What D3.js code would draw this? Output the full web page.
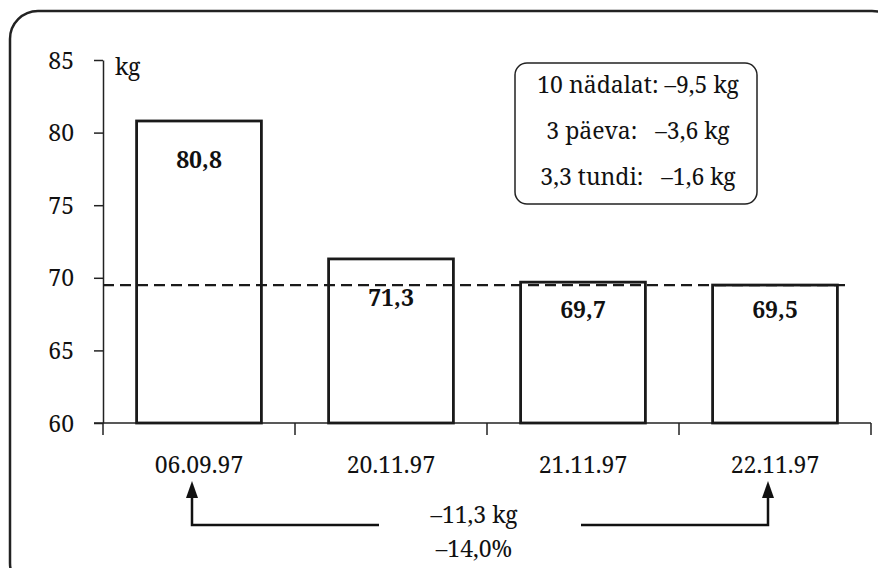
<!DOCTYPE html>
<html>
<head>
<meta charset="utf-8">
<title>kaal</title>
</head>
<body style="margin:0;background:#fff">
<script src="https://cdn.jsdelivr.net/npm/d3@7"></script>
<script>
// andmed
var dates = ["06.09.97", "20.11.97", "21.11.97", "22.11.97"];
var weights = [80.8, 71.3, 69.7, 69.5];
var yTicks = [60, 65, 70, 75, 80, 85];
var refLevel = 69.5;
var boxLines = ["10 nädalat: –9,5 kg", "3 päeva:   –3,6 kg", "3,3 tundi:   –1,6 kg"];
var totalLines = ["–11,3 kg", "–14,0%"];

var width = 878, height = 568;
var font = "'Noto Serif', 'Liberation Serif', serif";

var svg = d3.select("body").append("svg")
    .attr("width", width)
    .attr("height", height)
    .style("font-family", font);

// välimine raam
svg.append("rect")
    .attr("x", 10).attr("y", 11)
    .attr("width", 890).attr("height", 580)
    .attr("rx", 28).attr("ry", 28)
    .style("fill", "none")
    .style("stroke", "#222")
    .style("stroke-width", 2.5);

var x = d3.scaleBand()
    .domain(dates)
    .range([103, 871])
    .paddingInner(0.35)
    .paddingOuter(0.175);

var y = d3.scaleLinear()
    .domain([60, 85])
    .range([423, 60]);

// y telg
var yAxis = svg.append("g")
    .attr("transform", "translate(103,0)")
    .call(d3.axisLeft(y).tickValues(yTicks).tickSize(9).tickSizeOuter(0).tickPadding(20));
yAxis.attr("font-family", null).attr("font-size", null);
yAxis.select(".domain").style("stroke", "#222").style("stroke-width", 1.5);
yAxis.selectAll(".tick line").style("stroke", "#222").style("stroke-width", 1.5);
yAxis.selectAll(".tick text")
    .style("font-family", font)
    .style("font-size", "23px")
    .attr("dy", "0.35em")
    .style("fill", "#111");

// x telg
var step = x.step();
var xTickPos = d3.range(dates.length + 1).map(function(i) { return 103 + i * step; });
svg.append("line")
    .attr("x1", 94).attr("x2", xTickPos[xTickPos.length - 1])
    .attr("y1", y(60)).attr("y2", y(60))
    .style("stroke", "#222").style("stroke-width", 1.5);
svg.append("g").selectAll("line")
    .data(xTickPos)
    .enter().append("line")
    .attr("x1", d => d).attr("x2", d => d)
    .attr("y1", y(60)).attr("y2", y(60) + 12)
    .style("stroke", "#222").style("stroke-width", 1.5);

svg.append("g").selectAll("text")
    .data(dates)
    .enter().append("text")
    .attr("x", d => x(d) + x.bandwidth() / 2)
    .attr("y", 473)
    .attr("text-anchor", "middle")
    .style("font-size", "23px")
    .style("fill", "#111")
    .text(d => d);

svg.append("text")
    .attr("x", 115).attr("y", 75)
    .style("font-size", "23px")
    .style("fill", "#111")
    .text("kg");

// tulbad
svg.append("g").selectAll("rect")
    .data(weights)
    .enter().append("rect")
    .attr("x", (d, i) => x(dates[i]))
    .attr("y", d => y(d))
    .attr("width", x.bandwidth())
    .attr("height", d => y(60) - y(d))
    .style("fill", "#fff")
    .style("stroke", "#1a1a1a")
    .style("stroke-width", 2.8);

// katkendjoon
svg.append("line")
    .attr("x1", 103).attr("x2", 848)
    .attr("y1", y(refLevel)).attr("y2", y(refLevel))
    .style("stroke", "#1a1a1a")
    .style("stroke-width", 2.2)
    .style("stroke-dasharray", "11,6");

// väärtused tulpades
svg.append("g").selectAll("text")
    .data(weights)
    .enter().append("text")
    .attr("x", (d, i) => x(dates[i]) + x.bandwidth() / 2)
    .attr("y", d => Math.min(y(d) + 47, y(refLevel) + 33))
    .attr("text-anchor", "middle")
    .style("font-size", "23px")
    .style("font-weight", "bold")
    .style("fill", "#111")
    .text(d => d3.format(".1f")(d).replace(".", ","));

// infokast
svg.append("rect")
    .attr("x", 515).attr("y", 63)
    .attr("width", 242).attr("height", 141)
    .attr("rx", 12).attr("ry", 12)
    .style("fill", "#fff")
    .style("stroke", "#222")
    .style("stroke-width", 1.5);

svg.append("g").selectAll("text")
    .data(boxLines)
    .enter().append("text")
    .attr("x", 638)
    .attr("y", (d, i) => 93 + i * 46)
    .attr("text-anchor", "middle")
    .style("font-size", "23px")
    .style("white-space", "pre")
    .style("fill", "#111")
    .text(d => d);

// nooled
var x0 = x(dates[0]) + x.bandwidth() / 2 - 7;
var x3 = x(dates[3]) + x.bandwidth() / 2 - 7;
var arrowY = 525;
var lines = [
    [[x0, 496], [x0, arrowY], [379, arrowY]],
    [[581, arrowY], [x3, arrowY], [x3, 496]]
];
svg.append("g").selectAll("path")
    .data(lines)
    .enter().append("path")
    .attr("d", d3.line())
    .style("fill", "none")
    .style("stroke", "#111")
    .style("stroke-width", 2.5);
svg.append("g").selectAll("path")
    .data([x0, x3])
    .enter().append("path")
    .attr("d", d => "M" + (d - 6) + ",498L" + d + ",481L" + (d + 6) + ",498Z")
    .style("fill", "#111");

svg.append("g").selectAll("text")
    .data(totalLines)
    .enter().append("text")
    .attr("x", 474)
    .attr("y", (d, i) => 523 + i * 34)
    .attr("text-anchor", "middle")
    .style("font-size", "23px")
    .style("fill", "#111")
    .text(d => d);
</script>
</body>
</html>
